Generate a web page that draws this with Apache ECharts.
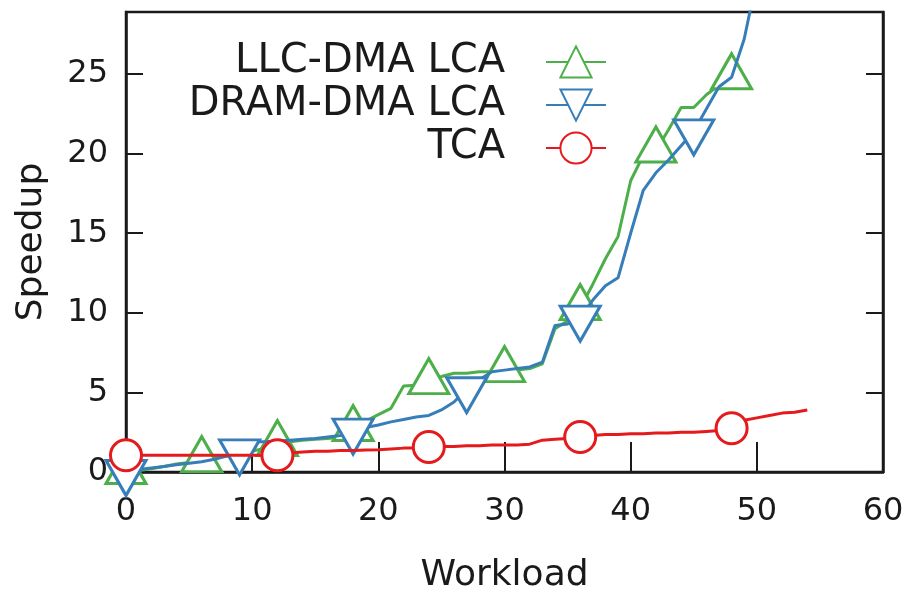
<!DOCTYPE html>
<html>
<head>
<meta charset="utf-8">
<script src="https://cdn.jsdelivr.net/npm/echarts@6/dist/echarts.min.js"></script>
<style>
html,body{margin:0;padding:0;background:#fff;}
#chart{width:907px;height:592px;}
</style>
</head>
<body>
<div id="chart"></div>
<script>
// ---- data ----
var seriesNames = ['LLC-DMA LCA', 'DRAM-DMA LCA', 'TCA'];
var xTicks = [0, 10, 20, 30, 40, 50, 60];
var yTicks = [0, 5, 10, 15, 20, 25];

// workload index 0..48
var llcValues = [0, 0.1, 0.2, 0.35, 0.5, 0.6, 0.75, 0.9, 1.0, 1.1, 1.3, 1.5, 1.75,
  1.9, 2.0, 2.05, 2.1, 2.2, 2.7, 3.2, 3.6, 4.0, 5.4, 5.45, 5.65,
  6.0, 6.2, 6.2, 6.3, 6.3, 6.4, 6.4, 6.5, 6.8, 9.0, 9.5, 10.3,
  11.8, 13.4, 14.8, 18.3, 19.9, 20.2, 21.5, 22.9, 22.9, 23.7, 24.3, 24.8];
// workload index 0..50
var dramValues = [0, 0.15, 0.25, 0.35, 0.45, 0.55, 0.65, 0.8, 1.0, 1.3, 1.9, 1.9, 1.95,
  2.0, 2.05, 2.1, 2.2, 2.3, 2.6, 2.8, 2.95, 3.15, 3.3, 3.45, 3.55,
  3.9, 4.4, 5.2, 5.8, 6.3, 6.4, 6.5, 6.6, 6.9, 9.2, 9.3, 9.7,
  10.8, 11.7, 12.2, 15.0, 17.7, 18.8, 19.6, 20.5, 21.4, 22.8, 24.2, 24.8,
  27.2, 31.0];
// workload index 0..54
var tcaValues = [1.05, 1.05, 1.05, 1.05, 1.05, 1.05, 1.05, 1.05, 1.05, 1.05, 1.05, 1.05, 1.05,
  1.2, 1.25, 1.3, 1.3, 1.35, 1.35, 1.38, 1.4, 1.45, 1.5, 1.5, 1.57,
  1.6, 1.6, 1.65, 1.65, 1.7, 1.7, 1.7, 1.75, 2.0, 2.05, 2.1, 2.2,
  2.3, 2.35, 2.35, 2.4, 2.4, 2.45, 2.45, 2.5, 2.5, 2.55, 2.6, 2.75,
  3.25, 3.4, 3.55, 3.7, 3.75, 3.9];

var markEvery = [6, 9, 12];
var colors = ['#4daf4a', '#377eb8', '#e41a1c'];

function build(values, every) {
  return values.map(function (v, i) {
    var item = { value: [i, v] };
    if (i % every !== 0) item.symbol = 'none';
    return item;
  });
}

var FONT = 'DejaVu Sans';
var TEXT = '#1a1a1a';
var chart = echarts.init(document.getElementById('chart'));
var lineW = 3;
var markW = 3;

chart.setOption({
  animation: false,
  backgroundColor: '#fff',
  grid: { left: 126, right: 24, top: 12, bottom: 120, show: true, borderColor: '#1a1a1a', borderWidth: 2.5,
    backgroundColor: 'transparent', outerBoundsMode: 'none', containLabel: false },
  legend: {
    data: seriesNames,
    orient: 'vertical',
    align: 'right',
    right: 300,
    top: 42,
    padding: 0,
    itemGap: 3,
    itemWidth: 60,
    itemHeight: 39,
    textStyle: { fontFamily: FONT, fontSize: 40, color: TEXT, padding: [0, 36, 0, 0] }
  },
  xAxis: {
    type: 'value',
    min: 0, max: 60, interval: 10,
    name: 'Workload',
    nameLocation: 'middle',
    nameGap: 86,
    nameTextStyle: { fontFamily: FONT, fontSize: 36, color: TEXT },
    axisLine: { show: true, lineStyle: { color: '#1a1a1a', width: 2.5 } },
    axisTick: { show: true, inside: true, length: 30, lineStyle: { color: '#1a1a1a', width: 2 } },
    axisLabel: { fontFamily: FONT, fontSize: 32, color: TEXT, margin: 24,
      formatter: function (v) { return xTicks.indexOf(v) >= 0 ? String(v) : ''; } },
    splitLine: { show: false }
  },
  yAxis: [{
    type: 'value',
    min: 0, max: 28.9, interval: 5,
    name: 'Speedup',
    nameLocation: 'middle',
    nameGap: 76,
    nameTextStyle: { fontFamily: FONT, fontSize: 36, color: TEXT },
    axisLine: { show: true, lineStyle: { color: '#1a1a1a', width: 2.5 } },
    axisTick: { show: true, inside: true, length: 17, lineStyle: { color: '#1a1a1a', width: 2 } },
    axisLabel: { fontFamily: FONT, fontSize: 32, color: TEXT, margin: 18, showMaxLabel: false,
      formatter: function (v) { return yTicks.indexOf(v) >= 0 ? String(v) : ''; } },
    splitLine: { show: false }
  }, {
    type: 'value',
    position: 'right',
    min: 0, max: 28.9, interval: 5,
    axisLine: { show: true, lineStyle: { color: '#1a1a1a', width: 2.5 } },
    axisTick: { show: true, inside: true, length: 17, lineStyle: { color: '#1a1a1a', width: 2 } },
    axisLabel: { show: false },
    splitLine: { show: false }
  }],
  series: [{
    name: seriesNames[0],
    type: 'line',
    data: build(llcValues, markEvery[0]),
    symbol: 'triangle',
    symbolSize: [40, 35],
    symbolOffset: [0, -6],
    lineStyle: { width: lineW, color: colors[0] },
    itemStyle: { color: '#fff', borderColor: colors[0], borderWidth: markW },
    z: 2
  }, {
    name: seriesNames[1],
    type: 'line',
    data: build(dramValues, markEvery[1]),
    symbol: 'triangle',
    symbolRotate: 180,
    symbolSize: [40, 35],
    symbolOffset: [0, 6],
    lineStyle: { width: lineW, color: colors[1] },
    itemStyle: { color: '#fff', borderColor: colors[1], borderWidth: markW },
    z: 3
  }, {
    name: seriesNames[2],
    type: 'line',
    data: build(tcaValues, markEvery[2]),
    symbol: 'circle',
    symbolSize: 31,
    lineStyle: { width: lineW, color: colors[2] },
    itemStyle: { color: '#fff', borderColor: colors[2], borderWidth: markW },
    z: 4
  }]
});
</script>
</body>
</html>
